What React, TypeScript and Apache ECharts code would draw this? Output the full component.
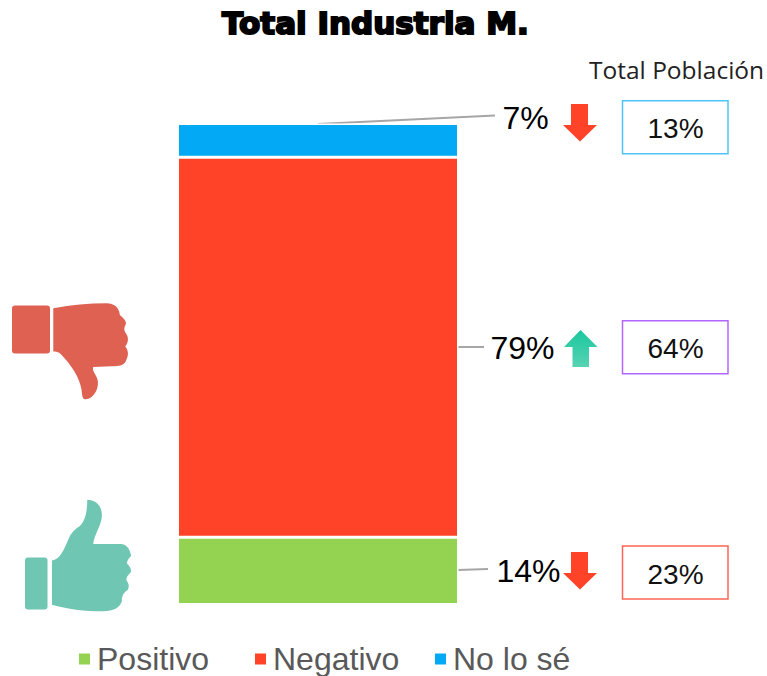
import React, { useEffect, useRef } from "react";
import * as echarts from "echarts";

const categories = ["Total Industria M."];
const seriesNames = ["Positivo", "Negativo", "No lo sé"];
const industria = [14, 79, 7];
const poblacion = [23, 64, 13];
const seriesColors = ["#94D352", "#FF4329", "#03A9F4"];
const labelPos = [[528.5, 571], [522.5, 348], [525.5, 118]];
const legendLeft = [77, 253, 433];
const boxTop = [546, 320.7, 100.7];
const boxColors = ["#FF6655", "#B266FF", "#4FC3F7"];
const leaderLines = [[458, 570, 488, 569], [458, 347, 484, 347], [318, 124, 495, 115.5]];

const handDown = "M160 55C215 45 265 40 320 40C345 40 358 55 360 75C372 85 380 95 378 102C372 112 372 120 376 127C386 140 388 155 376 170C385 180 388 195 378 213C372 226 360 229 335 229L280 231C275 245 292 255 294 275C296 300 280 327 258 328C248 328 247 320 245 300C240 265 215 225 180 190C172 185 165 185 160 185Z";
const handUp = "M156 812C180 810 192 780 205 750C212 730 225 718 238 710C255 695 262 670 262 630C285 630 305 645 306 675C307 705 282 735 280 763L365 763C382 765 390 780 394 798C385 808 380 815 382 822C392 832 396 842 392 848C382 858 378 866 380 872C388 882 388 892 384 900C372 908 365 918 366 935C360 955 340 965 310 965C255 965 200 958 156 945Z";
echarts.graphic.registerShape("handDown", echarts.graphic.extendPath(handDown, {}));
echarts.graphic.registerShape("handUp", echarts.graphic.extendPath(handUp, {}));

const downArrow = (top: number) => ({
  type: "polygon",
  shape: { points: [[571, top], [588, top], [588, top + 21], [597, top + 21], [580, top + 37.5], [563, top + 21], [571, top + 21]] },
  style: { fill: "#FF4329" },
});
const upArrow = (tip: number) => ({
  type: "polygon",
  shape: { points: [[580.5, tip], [597.5, tip + 17], [589, tip + 17], [589, tip + 37], [572.5, tip + 37], [572.5, tip + 17], [564, tip + 17]] },
  style: {
    fill: new echarts.graphic.LinearGradient(0, 0, 0, 1, [
      { offset: 0, color: "#18C79E" },
      { offset: 1, color: "#58D3B3" },
    ]),
  },
});

export default function App() {
  const ref = useRef<HTMLDivElement>(null);
  useEffect(() => {
    const chart = echarts.init(ref.current!, undefined, { renderer: "svg" });
    chart.setOption({
      animation: false,
      backgroundColor: "#ffffff",
      title: {
        text: categories[0],
        left: 222,
        top: 7,
        padding: 0,
        textStyle: {
          fontFamily: "DejaVu Sans",
          fontWeight: "bold",
          fontSize: 31,
          color: "#000",
          textBorderColor: "#000",
          textBorderWidth: 2,
        },
      },
      grid: { left: 177.5, width: 281, top: 123.5, height: 481 },
      xAxis: { type: "category", data: categories, show: false },
      yAxis: { type: "value", min: 0, max: 100, show: false },
      legend: seriesNames.map((n, i) => ({
        data: [n],
        left: legendLeft[i],
        top: 643,
        padding: 0,
        itemWidth: 13,
        itemHeight: 13,
        icon: "rect",
        textStyle: { fontFamily: "Liberation Sans", fontSize: 32, lineHeight: 32, color: "#595959", padding: [0, 0, 0, 1] },
      })),
      series: seriesNames.map((n, i) => ({
        name: n,
        type: "bar",
        stack: "t",
        barWidth: "100%",
        data: [industria[i]],
        itemStyle: { color: seriesColors[i], borderColor: "#fff", borderWidth: 1.5 },
        label: {
          show: true,
          formatter: "{c}%",
          fontFamily: "Liberation Sans",
          fontSize: 32,
          color: "#000",
        },
        labelLayout: { x: labelPos[i][0], y: labelPos[i][1], align: "center", verticalAlign: "middle" },
      })),
      graphic: [
        ...leaderLines.map((l) => ({
          type: "line",
          shape: { x1: l[0], y1: l[1], x2: l[2], y2: l[3] },
          style: { stroke: "#A6A6A6", lineWidth: 2 },
        })),
        {
          type: "text",
          x: 589,
          y: 57,
          style: { text: "Total Población", font: "24.5px 'Open Sans'", fill: "#222" },
        },
        ...poblacion.map((v, i) => ({
          type: "rect",
          shape: { x: 622.5, y: boxTop[i], width: 105.5, height: 53 },
          style: { fill: "#fff", stroke: boxColors[i], lineWidth: 1.5 },
        })),
        ...poblacion.map((v, i) => ({
          type: "text",
          x: 675.5,
          y: boxTop[i] + 28,
          style: { text: v + "%", font: "28px 'Liberation Sans'", fill: "#111", align: "center", verticalAlign: "middle" },
        })),
        downArrow(104),
        upArrow(330),
        downArrow(552),
        { type: "rect", shape: { x: 12, y: 305.5, width: 38, height: 48, r: 3 }, style: { fill: "#DE6152" } },
        { type: "handDown", x: 0, y: 290, scaleX: 1 / 3, scaleY: 1 / 3, style: { fill: "#DE6152" } },
        { type: "rect", shape: { x: 25, y: 557.5, width: 22.5, height: 52, r: 3 }, style: { fill: "#6FC6B2" } },
        { type: "handUp", x: 0, y: 290, scaleX: 1 / 3, scaleY: 1 / 3, style: { fill: "#6FC6B2" } },
      ],
    });
    return () => chart.dispose();
  }, []);
  return <div ref={ref} style={{ position: "fixed", left: 0, top: 0, width: 767, height: 676 }} />;
}
